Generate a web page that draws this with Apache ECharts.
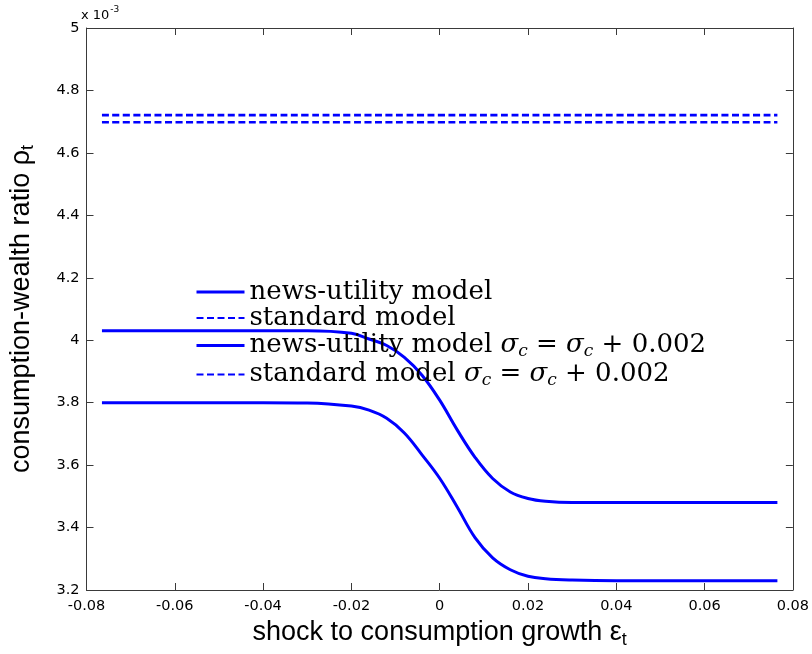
<!DOCTYPE html>
<html>
<head>
<meta charset="utf-8">
<script src="https://cdn.jsdelivr.net/npm/echarts@6/dist/echarts.min.js"></script>
<style>html,body{margin:0;padding:0;background:#fff;}#c{width:812px;height:654px;}</style>
</head>
<body>
<div id="c"></div>
<script>
// shock to consumption growth (x values)
var epsGrid = [-0.0765, -0.06, -0.04, -0.03, -0.02, -0.016, -0.012, -0.008, -0.004, 0,
               0.004, 0.008, 0.012, 0.016, 0.02, 0.024, 0.03, 0.04, 0.06, 0.0765];
// consumption-wealth ratio, in units of 1e-3
var newsUtility = [4.03, 4.03, 4.03, 4.03, 4.022, 4.004, 3.983, 3.945, 3.888, 3.808,
                   3.712, 3.625, 3.557, 3.514, 3.493, 3.484, 3.480, 3.480, 3.480, 3.480];
var standardModel = [4.721, 4.721, 4.721, 4.721, 4.721, 4.721, 4.721, 4.721, 4.721, 4.721,
                     4.721, 4.721, 4.721, 4.721, 4.721, 4.721, 4.721, 4.721, 4.721, 4.721];
var newsUtilityHighSigma = [3.80, 3.80, 3.80, 3.799, 3.789, 3.776, 3.750, 3.703, 3.633, 3.558,
                            3.465, 3.368, 3.303, 3.265, 3.244, 3.236, 3.232, 3.230, 3.230, 3.230];
var standardHighSigma = [4.698, 4.698, 4.698, 4.698, 4.698, 4.698, 4.698, 4.698, 4.698, 4.698,
                         4.698, 4.698, 4.698, 4.698, 4.698, 4.698, 4.698, 4.698, 4.698, 4.698];
var seriesNames = ['news-utility model', 'standard model',
                   'news-utility model σc = σc + 0.002', 'standard model σc = σc + 0.002'];
var xTicks = [-0.08, -0.06, -0.04, -0.02, 0, 0.02, 0.04, 0.06, 0.08];
var yTicks = [3.2, 3.4, 3.6, 3.8, 4, 4.2, 4.4, 4.6, 4.8, 5];

function pairs(xs, ys) { return xs.map(function (x, i) { return [x, ys[i]]; }); }

var chart = echarts.init(document.getElementById('c'), null, { renderer: 'canvas' });
var axisColor = '#3a3a3a';
var tickFont = 'DejaVu Sans';
var blue = '#0000ff';

function baseX(pos, show) {
  return {
    type: 'value', position: pos, min: xTicks[0], max: xTicks[xTicks.length - 1], interval: 0.02,
    axisLine: { show: true, onZero: false, lineStyle: { color: axisColor, width: 1 } },
    axisTick: { show: true, inside: true, length: 7, lineStyle: { color: axisColor } },
    splitLine: { show: false },
    axisLabel: {
      show: show, margin: 9, color: '#000', fontFamily: tickFont, fontSize: 14.5,
      formatter: function (v) { return Math.abs(v) < 1e-9 ? '0' : v.toFixed(2); }
    }
  };
}
function baseY(pos, show) {
  return {
    type: 'value', position: pos, min: yTicks[0], max: yTicks[yTicks.length - 1], interval: 0.2,
    axisLine: { show: true, onZero: false, lineStyle: { color: axisColor, width: 1 } },
    axisTick: { show: true, inside: true, length: 7, lineStyle: { color: axisColor } },
    splitLine: { show: false },
    axisLabel: {
      show: show, margin: 7, color: '#000', fontFamily: tickFont, fontSize: 14.5,
      formatter: function (v) { return String(parseFloat(v.toFixed(1))); }
    }
  };
}

var xMain = baseX('bottom', true);
xMain.name = 'shock to consumption growth ε{sub|t}';
xMain.nameLocation = 'middle';
xMain.nameGap = 27;
xMain.nameTextStyle = {
  color: '#000', fontFamily: 'Liberation Sans', fontSize: 27,
  rich: { sub: { fontFamily: 'Liberation Sans', fontSize: 18, padding: [14, 0, 0, 0], color: '#000' } }
};
var yMain = baseY('left', true);
yMain.name = 'consumption-wealth ratio ρ{sub|t}';
yMain.nameLocation = 'middle';
yMain.nameGap = 49;
yMain.nameRotate = 90;
yMain.nameTextStyle = {
  color: '#000', fontFamily: 'Liberation Sans', fontSize: 27,
  rich: { sub: { fontFamily: 'Liberation Sans', fontSize: 18, padding: [14, 0, 0, 0], color: '#000' } }
};

function lineSeries(name, ys, type, width, z) {
  return {
    name: name, type: 'line', xAxisIndex: 0, yAxisIndex: 0,
    data: pairs(epsGrid, ys), symbol: 'none', showSymbol: false,
    smooth: 0.4, z: z,
    lineStyle: { color: blue, width: width, type: type },
    itemStyle: { color: blue },
    emphasis: { disabled: true }
  };
}

var option = {
  animation: false,
  backgroundColor: '#ffffff',
  grid: { left: 82, right: 16, top: 28, bottom: 64, containLabel: false },
  xAxis: [xMain, baseX('top', false)],
  yAxis: [yMain, baseY('right', false)],
  legend: {
    show: true, orient: 'vertical', left: 195, top: 279,
    itemWidth: 48, itemHeight: 14, itemGap: 0, padding: 0,
    selectedMode: false,
    data: [
      { name: seriesNames[0], lineStyle: { width: 3 } },
      { name: seriesNames[1], lineStyle: { width: 2.2 } },
      { name: seriesNames[2], lineStyle: { width: 3 } },
      { name: seriesNames[3], lineStyle: { width: 2.2 } }
    ],
    itemStyle: { opacity: 0 },
    textStyle: {
      color: '#000', fontFamily: 'DejaVu Serif', fontSize: 26, lineHeight: 26,
      rich: {
        i: { fontFamily: 'DejaVu Serif', fontStyle: 'italic', fontSize: 26, color: '#000', lineHeight: 26 },
        sub: { fontFamily: 'DejaVu Serif', fontStyle: 'italic', fontSize: 17, color: '#000', padding: [12, 0, 0, 0], lineHeight: 26 }
      }
    },
    formatter: function (n) { return n.replace(/σc/g, '{i|σ}{sub|c}'); }
  },
  graphic: [{
    type: 'text', left: 81, top: 5,
    style: {
      text: '{a|x 10}{b|-3}',
      rich: {
        a: { fontFamily: tickFont, fontSize: 13, fill: '#000', padding: [6, 0, 0, 0] },
        b: { fontFamily: tickFont, fontSize: 9, fill: '#000', padding: [0, 0, 6, 1] }
      }
    }
  }],
  series: [
    lineSeries(seriesNames[0], newsUtility, 'solid', 3, 3),
    lineSeries(seriesNames[1], standardModel, [7, 3.5], 2.6, 2),
    lineSeries(seriesNames[2], newsUtilityHighSigma, 'solid', 3, 3),
    lineSeries(seriesNames[3], standardHighSigma, [7, 3.5], 2.6, 2)
  ]
};
chart.setOption(option);
</script>
</body>
</html>
